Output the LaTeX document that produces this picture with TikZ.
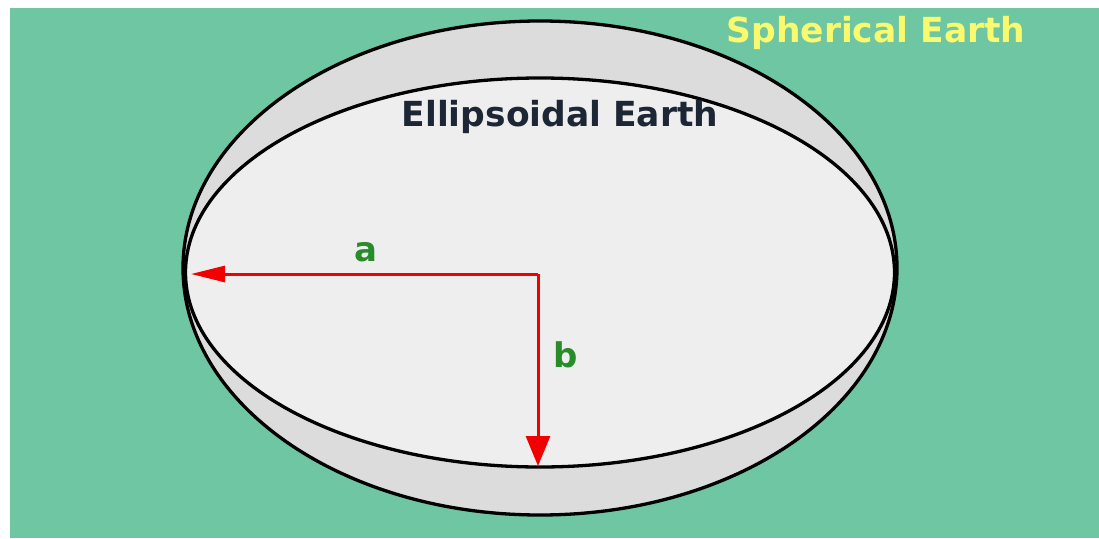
\documentclass[tikz,border=0pt]{standalone}
\usepackage{fontspec}
\setmainfont{DejaVu Sans}
\usetikzlibrary{shapes.geometric,arrows.meta}
\definecolor{bggreen}{RGB}{110,198,162}
\definecolor{outerfill}{RGB}{220,220,220}
\definecolor{innerfill}{RGB}{238,238,238}
\definecolor{labyellow}{RGB}{250,250,110}
\definecolor{labnavy}{RGB}{28,38,52}
\definecolor{labgreen}{RGB}{40,140,40}
\definecolor{arrred}{RGB}{240,0,0}
\tikzset{
  earth/.style={ellipse, draw=black, line width=3.3pt, inner sep=0pt, outer sep=0pt},
  title/.style={font=\bfseries\fontsize{34.5}{34.5}\selectfont, inner sep=0pt},
  axislabel/.style={font=\bfseries\fontsize{34}{34}\selectfont, text=labgreen, inner sep=0pt},
  radius/.style={draw=arrred, line width=3pt}
}
\begin{document}
\begin{tikzpicture}[x=1pt,y=-1pt]
\useasboundingbox (0,0) rectangle (1099,538);
\fill[white] (0,0) rectangle (1099,538);
\fill[bggreen] (10,8) rectangle (1099,538);
\node[earth, fill=outerfill, minimum width=714pt, minimum height=494pt] (sphere) at (540,268) {};
\node[earth, fill=innerfill, minimum width=709pt, minimum height=389pt] (ellipsoid) at (540,272.5) {};
\node[title, text=labyellow] (sphlabel) at (876,33) {Spherical Earth};
\node[title, text=labnavy] (elllabel) at (560,117) {Ellipsoidal Earth};
\coordinate (c) at (538,274);
\coordinate (aend) at (191,274);
\coordinate (bend) at (538,466);
\draw[radius, -{Triangle[length=34pt,width=16pt]}] (c) -- (aend);
\draw[radius, -{Triangle[length=30pt,width=24pt]}] (c) -- (bend);
\node[axislabel] (alab) at (366,252) {a};
\node[axislabel] (blab) at (566,355) {b};
\end{tikzpicture}
\end{document}
